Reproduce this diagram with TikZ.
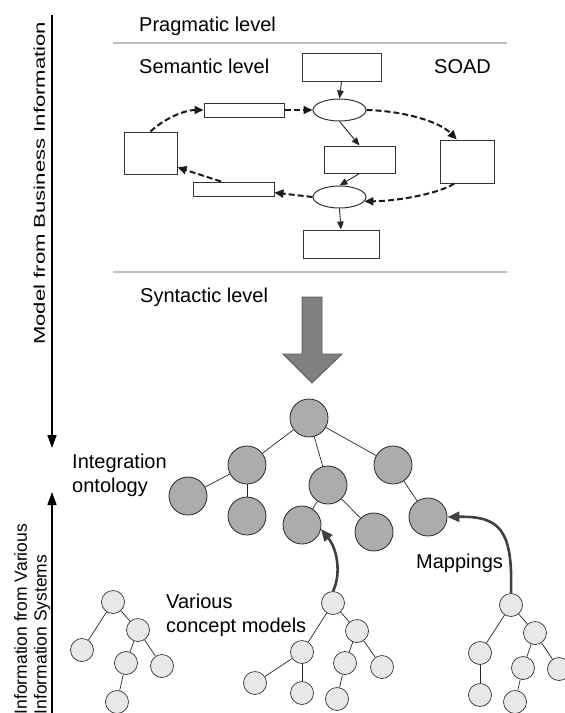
\documentclass[tikz,border=0pt]{standalone}
\usepackage{fontspec}
\setmainfont{Liberation Sans}
\usetikzlibrary{arrows.meta,shapes.geometric}
\definecolor{bigfill}{RGB}{172,172,172}
\definecolor{smallfill}{RGB}{232,232,232}
\definecolor{linegray}{RGB}{195,195,195}
\definecolor{arrowfill}{RGB}{128,128,128}
\definecolor{arrowdraw}{RGB}{90,90,90}
\definecolor{mapcol}{RGB}{64,64,64}
\begin{document}
\begin{tikzpicture}[x=1pt,y=-1pt,
  lbl/.style={inner sep=0pt, anchor=base west, font=\fontsize{20}{24}\selectfont},
  lbl2/.style={inner sep=0pt, anchor=north west, align=left, font=\fontsize{20}{24}\selectfont},
  box/.style={rectangle, draw=black!80, line width=1pt, fill=white, inner sep=0pt},
  ell/.style={ellipse, draw=black!80, line width=1pt, fill=white, inner sep=0pt, minimum width=53pt, minimum height=22pt},
  thinarr/.style={draw=black!85, line width=0.9pt, -{Triangle[length=8pt,width=6.5pt]}},
  dasharr/.style={draw=black!90, line width=2pt, dash pattern=on 6pt off 3pt, -{Triangle[length=9pt,width=8pt]}},
  bigc/.style={circle, draw=black!85, line width=0.8pt, fill=bigfill, minimum size=38pt, inner sep=0pt},
  smc/.style={circle, draw=black!80, line width=0.7pt, fill=smallfill, minimum size=23pt, inner sep=0pt},
  tline/.style={draw=black!85, line width=0.7pt},
  maparr/.style={draw=mapcol, line width=2.6pt, -{Triangle[length=12pt,width=10pt]}},
  axisarr/.style={draw=black, line width=1.5pt, -{Triangle[length=13pt,width=9pt]}},
  graybar/.style={draw=linegray, line width=2.5pt}]
\useasboundingbox (0,0) rectangle (565,713);

% level labels and separators
\node[lbl] (prag) at (139,31) {Pragmatic level};
\draw[graybar] (113,43) -- (507,43);
\node[lbl] (sem) at (139,73) {Semantic level};
\node[lbl] (soad) at (434,73) {SOAD};
\draw[graybar] (113,272) -- (507,272);
\node[lbl] (syn) at (140,302) {Syntactic level};

% SOAD diagram
\node[box, minimum width=79pt, minimum height=28pt] (T) at (341.5,67) {};
\node[ell] (E1) at (339.5,110) {};
\node[box, minimum width=80pt, minimum height=14pt] (B1) at (244,110) {};
\node[box, minimum width=53pt, minimum height=42pt] (L) at (150.5,153) {};
\node[box, minimum width=71pt, minimum height=27pt] (M) at (359.5,159.5) {};
\node[box, minimum width=54pt, minimum height=43pt] (R) at (467,161.5) {};
\node[box, minimum width=81pt, minimum height=14pt] (B2) at (233.5,189) {};
\node[ell] (E2) at (339.5,197) {};
\node[box, minimum width=76pt, minimum height=28pt] (BB) at (341,244) {};

\draw[thinarr] (T.south) -- (E1.north);
\draw[thinarr] (E1.south) -- (M.north);
\draw[thinarr] (M.south) -- (E2.north);
\draw[thinarr] (E2.south) -- (BB.north);

\draw[dasharr] (L.north) .. controls (165,118) and (185,110) .. (B1.west);
\draw[dasharr] (B1.east) -- (E1.west);
\draw[dasharr] (E1.east) .. controls (405,111) and (440,122) .. (R.115);
\draw[dasharr] (R.240) .. controls (440,193) and (400,201) .. (E2.-10);
\draw[dasharr] (E2.west) -- (B2.-5);
\draw[dasharr] (B2.149) -- (L.-28);

% big arrow
\filldraw[fill=arrowfill, draw=arrowdraw, line width=0.8pt]
  (302,297) -- (322,297) -- (322,354) -- (342,354) -- (312,383) -- (283,354) -- (302,354) -- cycle;

% side arrows and texts
\coordinate (a1s) at (52,15);
\coordinate (a1e) at (52,448);
\draw[axisarr] (a1s) -- (a1e);
\coordinate (a2s) at (52,716);
\coordinate (a2e) at (52,492);
\draw[axisarr] (a2s) -- (a2e);
\node[rotate=90, anchor=base west, inner sep=0pt] (modeltxt) at (45,345)
  {\fontsize{15.5}{18}\selectfont\scalebox{1.426}[1]{Model from Business Information}};
\node[rotate=90, anchor=base west, inner sep=0pt, font=\fontsize{17.5}{20}\selectfont] (info1) at (27,714.5) {Information from Various};
\node[rotate=90, anchor=base west, inner sep=0pt, font=\fontsize{17.5}{20}\selectfont] (info2) at (46.5,714.5) {Information Systems};

% integration ontology
\node[lbl2] (integ) at (72,453.7) {Integration\\ontology};
\node[bigc] (R0) at (309,418) {};
\node[bigc] (L1) at (247,465) {};
\node[bigc] (M1) at (328,485) {};
\node[bigc] (R1) at (393,465) {};
\node[bigc] (LL) at (188,496) {};
\node[bigc] (LB) at (247,516) {};
\node[bigc] (MC1) at (302,525) {};
\node[bigc] (MC2) at (374,532) {};
\node[bigc] (RC) at (428,517) {};
\draw[tline] (R0) -- (L1);
\draw[tline] (R0) -- (M1);
\draw[tline] (R0) -- (R1);
\draw[tline] (L1) -- (LL);
\draw[tline] (L1) -- (LB);
\draw[tline] (M1) -- (MC1);
\draw[tline] (M1) -- (MC2);
\draw[tline] (R1) -- (RC);

% concept model trees
\node[smc] (A0) at (113,602) {};
\node[smc] (A1) at (82,650) {};
\node[smc] (A2) at (138,630) {};
\node[smc] (A21) at (126,663) {};
\node[smc] (A22) at (162,666) {};
\node[smc] (A211) at (117,702) {};
\draw[tline] (A0) -- (A1);
\draw[tline] (A0) -- (A2);
\draw[tline] (A2) -- (A21);
\draw[tline] (A2) -- (A22);
\draw[tline] (A21) -- (A211);

\node[smc] (B0) at (333,603) {};
\node[smc] (Bl) at (302,652) {};
\node[smc] (Br) at (357,631) {};
\node[smc] (Bl1) at (255,683) {};
\node[smc] (Bl2) at (302,693) {};
\node[smc] (Br1) at (345,663) {};
\node[smc] (Br2) at (382,667) {};
\node[smc] (Br11) at (337,699) {};
\draw[tline] (B0) -- (Bl);
\draw[tline] (B0) -- (Br);
\draw[tline] (Bl) -- (Bl1);
\draw[tline] (Bl) -- (Bl2);
\draw[tline] (Br) -- (Br1);
\draw[tline] (Br) -- (Br2);
\draw[tline] (Br1) -- (Br11);

\node[smc] (C0) at (511,605) {};
\node[smc] (Cl) at (480,653) {};
\node[smc] (Cr) at (535,633) {};
\node[smc] (Cl1) at (480,695) {};
\node[smc] (Cr1) at (523,668) {};
\node[smc] (Cr2) at (559,669) {};
\node[smc] (Cr11) at (515,702) {};
\draw[tline] (C0) -- (Cl);
\draw[tline] (C0) -- (Cr);
\draw[tline] (Cl) -- (Cl1);
\draw[tline] (Cr) -- (Cr1);
\draw[tline] (Cr) -- (Cr2);
\draw[tline] (Cr1) -- (Cr11);

% mappings
\draw[maparr] (B0.north) .. controls (341,575) and (338,550) .. (MC1.-12);
\draw[maparr] (C0.north) .. controls (513,530) and (500,516) .. (RC.east);
\node[lbl] (mapl) at (416,568) {Mappings};
\node[lbl2] (various) at (166,593.7) {Various\\concept models};
\end{tikzpicture}
\end{document}
